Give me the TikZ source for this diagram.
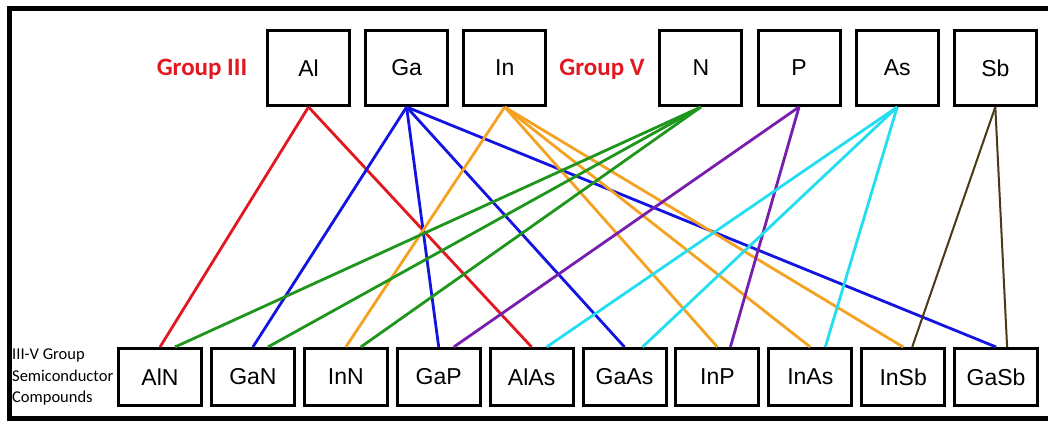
\documentclass[tikz,border=0pt]{standalone}
\usepackage{fontspec}
\newfontfamily\elemfont{Liberation Sans}
\newfontfamily\notefont{Carlito}
\definecolor{cRed}{RGB}{226,24,32}
\definecolor{cBlue}{RGB}{20,20,225}
\definecolor{cOrange}{RGB}{245,162,35}
\definecolor{cGreen}{RGB}{30,150,28}
\definecolor{cPurple}{RGB}{120,30,175}
\definecolor{cCyan}{RGB}{35,222,240}
\definecolor{cBrown}{RGB}{75,58,22}
\begin{document}
\begin{tikzpicture}[x=1pt,y=-1pt,
  elembox/.style={draw=black, fill=white, line width=3pt, inner sep=0pt,
    minimum width=82pt, minimum height=75pt,
    font=\elemfont\fontsize{23}{27}\selectfont},
  compbox/.style={draw=black, fill=white, line width=3pt, inner sep=0pt,
    minimum width=83pt, minimum height=57pt,
    font=\elemfont\fontsize{23}{27}\selectfont},
  grouplabel/.style={text=cRed, inner sep=0pt,
    font=\notefont\bfseries\fontsize{25}{29}\selectfont},
  bond/.style={line width=2.8pt}]
\useasboundingbox (0,0) rectangle (1048,421);
\fill[white] (0,0) rectangle (1048,421);
% outer frame (open on the right)
\draw[line width=5pt] (1048,8.5) -- (9.5,8.5) -- (9.5,418.5) -- (1048,418.5);

% group III and group V elements
\node[elembox] (Al) at (308.5,68) {Al};
\node[elembox] (Ga) at (406.6,68) {Ga};
\node[elembox] (In) at (504.7,68) {In};
\node[elembox] (N)  at (700.9,68) {N};
\node[elembox] (P)  at (799.0,68) {P};
\node[elembox] (As) at (897.2,68) {As};
\node[elembox] (Sb) at (995.3,68) {Sb};
\node[grouplabel] (g3) at (202,69) {Group III};
\node[grouplabel] (g5) at (602,69) {Group V};

% compounds
\node[compbox] (AlN)  at (160.0,377) {AlN};
\node[compbox] (GaN)  at (252.9,377) {GaN};
\node[compbox] (InN)  at (345.8,377) {InN};
\node[compbox] (GaP)  at (438.7,377) {GaP};
\node[compbox] (AlAs) at (531.6,377) {AlAs};
\node[compbox] (GaAs) at (624.5,377) {GaAs};
\node[compbox] (InP)  at (717.4,377) {InP};
\node[compbox] (InAs) at (810.3,377) {InAs};
\node[compbox] (InSb) at (903.2,377) {InSb};
\node[compbox] (GaSb) at (996.1,377) {GaSb};
\node[anchor=west, align=left, inner sep=0pt,
  font=\notefont\fontsize{16.5}{21.5}\selectfont] (cap) at (12,377)
  {III-V Group\\Semiconductor\\Compounds};

% bonds: group III element to the compound centre,
% group V element to a point just right of it
\draw[bond,cRed] (Al.south) -- (AlN.north);
\draw[bond,cRed] (Al.south) -- (AlAs.north);
\draw[bond,cBlue] (Ga.south) -- (GaN.north);
\draw[bond,cBlue] (Ga.south) -- (GaP.north);
\draw[bond,cBlue] (Ga.south) -- (GaAs.north);
\draw[bond,cBlue] (Ga.south) -- (GaSb.north);
\draw[bond,cOrange] (In.south) -- (InN.north);
\draw[bond,cOrange] (In.south) -- (InP.north);
\draw[bond,cOrange] (In.south) -- (InAs.north);
\draw[bond,cOrange] (In.south) -- (InSb.north);
\draw[bond,cGreen] (N.south) -- ([xshift=15pt]AlN.north);
\draw[bond,cGreen] (N.south) -- ([xshift=15pt]GaN.north);
\draw[bond,cGreen] (N.south) -- ([xshift=15pt]InN.north);
\draw[bond,cPurple] (P.south) -- ([xshift=15pt]GaP.north);
\draw[bond,cPurple] (P.south) -- ([xshift=13pt]InP.north);
\draw[bond,cCyan] (As.south) -- ([xshift=15pt]AlAs.north);
\draw[bond,cCyan] (As.south) -- ([xshift=18pt]GaAs.north);
\draw[bond,cCyan] (As.south) -- ([xshift=15pt]InAs.north);
\draw[bond,cBrown,line width=2pt] (Sb.south) -- ([xshift=9pt]InSb.north);
\draw[bond,cBrown,line width=2pt] (Sb.south) -- ([xshift=11pt]GaSb.north);
\end{tikzpicture}
\end{document}
